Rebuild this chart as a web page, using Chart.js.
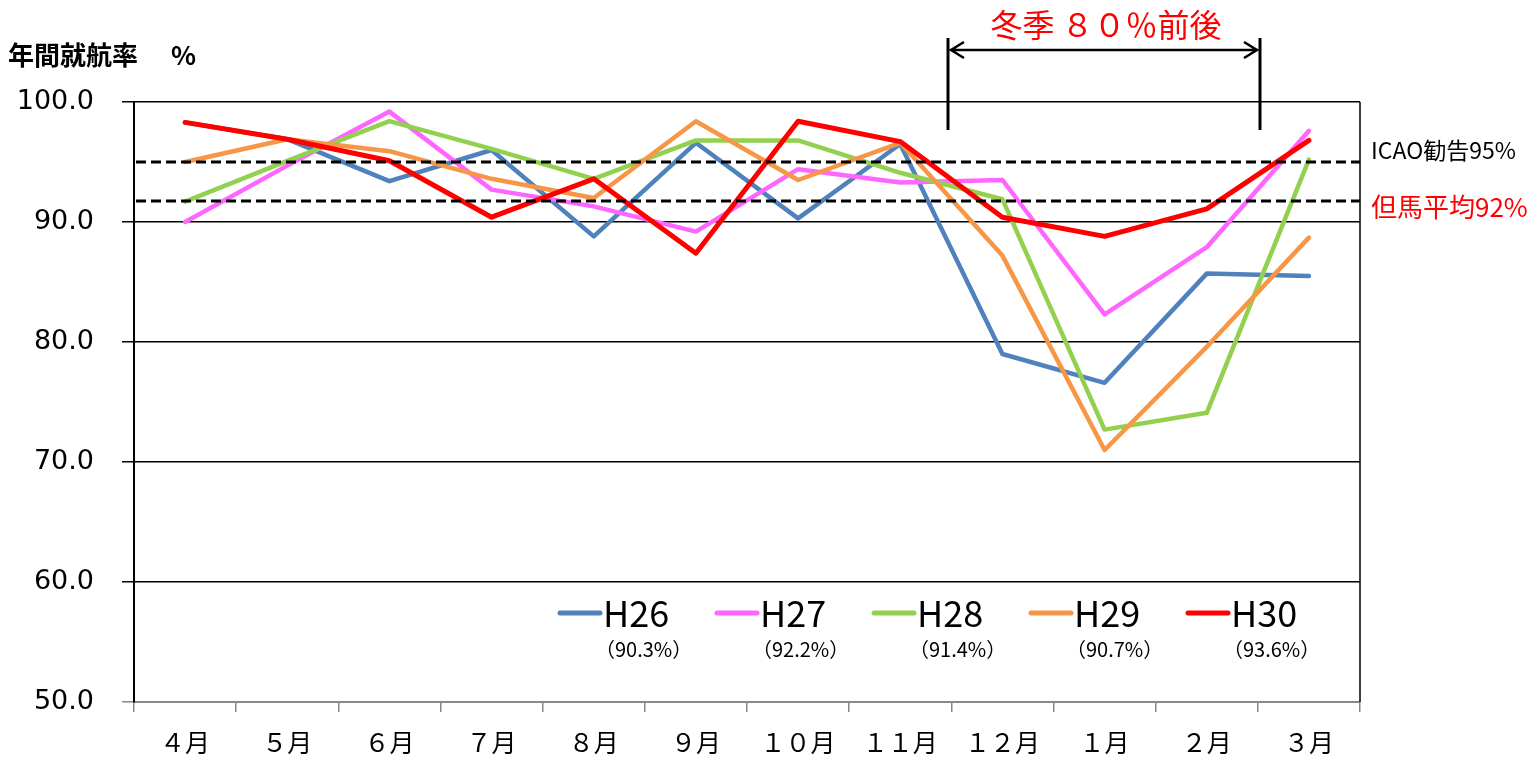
<!DOCTYPE html>
<html><head><meta charset="utf-8">
<style>html,body{margin:0;padding:0;background:#fff}</style>
</head><body>
<canvas id="c" width="1539" height="760"></canvas>
<script src="https://cdn.jsdelivr.net/npm/chart.js@4/dist/chart.umd.min.js"></script>
<script>
const categories = ['４月','５月','６月','７月','８月','９月','１０月','１１月','１２月','１月','２月','３月'];
const seriesNames = ['H26','H27','H28','H29','H30'];
const seriesAverages = ['（90.3%）','（92.2%）','（91.4%）','（90.7%）','（93.6%）'];
const h26 = [98.3, 96.9, 93.4, 96.0, 88.8, 96.6, 90.3, 96.5, 79.0, 76.6, 85.7, 85.5];
const h27 = [90.0, 94.7, 99.2, 92.7, 91.3, 89.2, 94.4, 93.3, 93.5, 82.3, 87.9, 97.6];
const h28 = [91.7, 95.1, 98.4, 96.1, 93.6, 96.8, 96.8, 94.1, 91.9, 72.7, 74.1, 95.2];
const h29 = [95.0, 96.9, 95.9, 93.6, 92.0, 98.4, 93.5, 96.6, 87.2, 71.0, 79.6, 88.7];
const h30 = [98.3, 96.9, 95.1, 90.4, 93.6, 87.4, 98.4, 96.7, 90.4, 88.8, 91.1, 96.8];
const yTicks = [50, 60, 70, 80, 90, 100];
const refValues = [95, 91.75];
const refLabels = ['ICAO勧告95%', '但馬平均92%'];
const winterSpan = [7.5, 10.5];
const winterLabel = '冬季 ８０％前後';
const yTitle = '年間就航率';
const yUnit = '%';

const colors = ['#4F81BD', '#FF66FF', '#92D050', '#F79646', '#FF0000'];
const widths = [4.5, 4.5, 4.5, 4.5, 5];
const allSeries = [h26, h27, h28, h29, h30];
const CJK = '"Noto Sans CJK JP", "Noto Sans", sans-serif';

const datasets = allSeries.map((d, i) => ({
  label: seriesNames[i], data: d, borderColor: colors[i], backgroundColor: colors[i],
  borderWidth: widths[i], pointRadius: 0, tension: 0, fill: false,
  borderJoinStyle: 'round', borderCapStyle: 'round', order: 4 - i
}));

const deco = {
  id: 'deco',
  afterDatasetsDraw(chart) {
    const {ctx, chartArea: a, scales: {x, y}} = chart;
    ctx.save();
    ctx.strokeStyle = '#000'; ctx.lineWidth = 3; ctx.setLineDash([10, 5]);
    refValues.forEach(v => {
      const py = Math.round(y.getPixelForValue(v));
      ctx.beginPath(); ctx.moveTo(a.left + 2, py); ctx.lineTo(a.right, py); ctx.stroke();
    });
    ctx.restore();
  },
  afterDraw(chart) {
    const {ctx, chartArea: a, scales: {x, y}} = chart;
    ctx.save();
    ctx.strokeStyle = '#000'; ctx.lineWidth = 1.5;
    ctx.beginPath(); ctx.moveTo(a.right, a.top); ctx.lineTo(a.right, a.bottom); ctx.stroke();
    ctx.textBaseline = 'middle'; ctx.textAlign = 'left';
    ctx.fillStyle = '#000'; ctx.font = '23px ' + CJK;
    ctx.fillText(refLabels[0], a.right + 11, y.getPixelForValue(refValues[0]) - 12);
    ctx.fillStyle = '#FF0000'; ctx.font = '26px ' + CJK;
    ctx.fillText(refLabels[1], a.right + 11, y.getPixelForValue(refValues[1]) + 6);
    ctx.fillStyle = '#000'; ctx.font = 'bold 26px ' + CJK;
    ctx.fillText(yTitle, 8, 55);
    ctx.fillText(yUnit, 171, 55);
    const x1 = Math.round(x.getPixelForValue(winterSpan[0])) - 3;
    const x2 = Math.round(x.getPixelForValue(winterSpan[1])) + 2;
    ctx.strokeStyle = '#000'; ctx.lineWidth = 3;
    ctx.beginPath();
    ctx.moveTo(x1, 38); ctx.lineTo(x1, 130);
    ctx.moveTo(x2, 38); ctx.lineTo(x2, 130);
    ctx.stroke();
    ctx.lineWidth = 2.5;
    ctx.beginPath();
    ctx.moveTo(x1 + 2, 50); ctx.lineTo(x2 - 2, 50);
    ctx.moveTo(x1 + 16, 42); ctx.lineTo(x1 + 3, 50); ctx.lineTo(x1 + 16, 58);
    ctx.moveTo(x2 - 16, 42); ctx.lineTo(x2 - 3, 50); ctx.lineTo(x2 - 16, 58);
    ctx.stroke();
    ctx.fillStyle = '#FF0000'; ctx.font = '32px ' + CJK; ctx.textAlign = 'center';
    ctx.fillText(winterLabel, (x1 + x2) / 2 + 2, 25);
    ctx.textAlign = 'left';
    seriesNames.forEach((n, i) => {
      const lx = 558 + i * 157, ly = 613;
      ctx.strokeStyle = colors[i]; ctx.lineWidth = 5; ctx.lineCap = 'round';
      ctx.beginPath(); ctx.moveTo(lx + 2, ly); ctx.lineTo(lx + 42, ly); ctx.stroke();
      ctx.fillStyle = '#000';
      ctx.font = '36px ' + CJK;
      ctx.fillText(n, lx + 45, ly);
      ctx.font = '20px ' + CJK;
      ctx.fillText(seriesAverages[i], lx + 37, ly + 36);
    });
    ctx.restore();
  }
};

new Chart(document.getElementById('c'), {
  type: 'line',
  data: { labels: categories, datasets },
  options: {
    responsive: false, animation: false, devicePixelRatio: 1,
    layout: { padding: { left: 0, right: 179, top: 102, bottom: 0 } },
    plugins: { legend: { display: false }, tooltip: { enabled: false }, title: { display: false } },
    scales: {
      x: {
        offset: true,
        grid: { offset: true, drawOnChartArea: false, drawTicks: true, tickLength: 10, color: '#888', lineWidth: 1.5 },
        border: { color: '#888', width: 2 },
        ticks: { font: { family: CJK, size: 25 }, color: '#000', padding: 15, maxRotation: 0, autoSkip: false },
        afterFit(s) { s.height = 58; }
      },
      y: {
        min: 50, max: 100,
        afterBuildTicks(s) { s.ticks = yTicks.map(v => ({ value: v })); },
        ticks: { callback: v => Number(v).toFixed(1), font: { family: 'DejaVu Sans', size: 27 }, color: '#000', padding: 28 },
        grid: { color: c => (c.tick && c.tick.value === 50) ? '#888' : '#000', lineWidth: 1.5, tickLength: 12 },
        border: { color: '#000', width: 2 },
        afterFit(s) { s.width = 134; }
      }
    }
  },
  plugins: [deco]
});
</script>
</body></html>
